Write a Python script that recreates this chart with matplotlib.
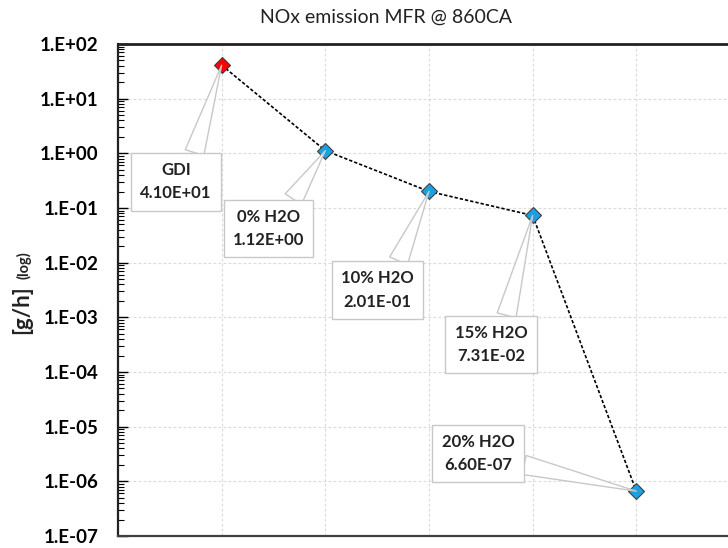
import matplotlib
matplotlib.use("Agg")
import matplotlib.pyplot as plt
from matplotlib.ticker import FixedLocator, FuncFormatter, NullFormatter
import numpy as np

plt.rcParams['font.family'] = ['Lato', 'DejaVu Sans']

# Data
cases = ["GDI", "0% H2O", "10% H2O", "15% H2O", "20% H2O"]
nox = [4.10e+01, 1.12e+00, 2.01e-01, 7.31e-02, 6.60e-07]
marker_colors = ["#FF0000", "#1BA1E2", "#1BA1E2", "#1BA1E2", "#1BA1E2"]
decades = list(range(-7, 3))

# Callout placement (offset of box centre from point, in points) and wedge anchor on the box
callout_offsets = [(-33, -84), (-41, -56), (-37, -71), (-30, -93), (-114, 27)]
callout_anchor = [(0.72, 1.0), (0.76, 1.0), (0.73, 1.0), (0.68, 1.0), (1.0, 0.27)]

fig = plt.figure(figsize=(7.28, 5.48), dpi=100)
ax = fig.add_axes([118/728, 12/548, 622/728, 492/548])

x = np.arange(1, len(nox) + 1)
ax.plot(x, nox, color="black", lw=1.2, dashes=(2, 1.2), zorder=3)
for xi, yi, c in zip(x, nox, marker_colors):
    ax.plot(xi, yi, marker="D", ms=8.5, mfc=c, mec="#404040", mew=0.8, zorder=4)

ax.set_yscale("log")
ax.set_ylim(10.0 ** decades[0], 10.0 ** decades[-1])
ax.set_xlim(0, 6)
ax.set_xticks(np.arange(1, 7))
ax.tick_params(axis="x", length=0, labelbottom=False)

major = [10.0 ** d for d in decades]
minor = [m * 10.0 ** d for d in decades[:-1] for m in range(2, 10)]
ax.yaxis.set_major_locator(FixedLocator(major))
ax.yaxis.set_minor_locator(FixedLocator(minor))
ax.yaxis.set_minor_formatter(NullFormatter())
ax.yaxis.set_major_formatter(FuncFormatter(lambda v, p: "1.E{:+03d}".format(int(round(np.log10(v))))))
ax.tick_params(axis="y", which="major", direction="in", length=7, width=1.0,
               labelsize=13.5, pad=14)
ax.tick_params(axis="y", which="minor", direction="in", length=4, width=0.8)
for lab in ax.get_yticklabels():
    lab.set_fontweight("bold")

ax.grid(True, which="major", color="#DADADA", ls=(0, (2.5, 2)), lw=0.8)
ax.set_axisbelow(True)

ax.spines["top"].set_linewidth(2.0)
ax.spines["top"].set_color("#222222")
ax.spines["left"].set_linewidth(1.6)
ax.spines["left"].set_color("#222222")
ax.spines["bottom"].set_linewidth(1.6)
ax.spines["bottom"].set_color("#404040")
ax.spines["right"].set_visible(False)

for xi, yi, name, off, rel in zip(x, nox, cases, callout_offsets, callout_anchor):
    ax.annotate(f"{name}\n{yi:.2E}", xy=(xi, yi), xytext=off, textcoords="offset points",
                ha="center", va="center", fontsize=12, fontweight="bold",
                linespacing=1.55, color="#222222", zorder=5,
                bbox=dict(boxstyle="square,pad=0.55", fc="white", ec="#C8C8C8", lw=1.0),
                arrowprops=dict(arrowstyle="wedge,tail_width=1.4", mutation_scale=10,
                                fc="white", ec="#C8C8C8", lw=1.0, relpos=rel,
                                shrinkA=0, shrinkB=0))

fig.text(0.53, 1 - 17/548, "NOx emission MFR @ 860CA", ha="center", va="center",
         fontsize=14, color="#222222")
fig.text(22/728, 1 - 310/548, "[g/h]", rotation=90, ha="center", va="center",
         fontsize=16, fontweight="bold", color="#222222")
fig.text(24/728, 1 - 265/548, "(log)", rotation=90, ha="center", va="center",
         fontsize=10.5, fontweight="bold", color="#222222")

fig.savefig("out.png", dpi=100)
